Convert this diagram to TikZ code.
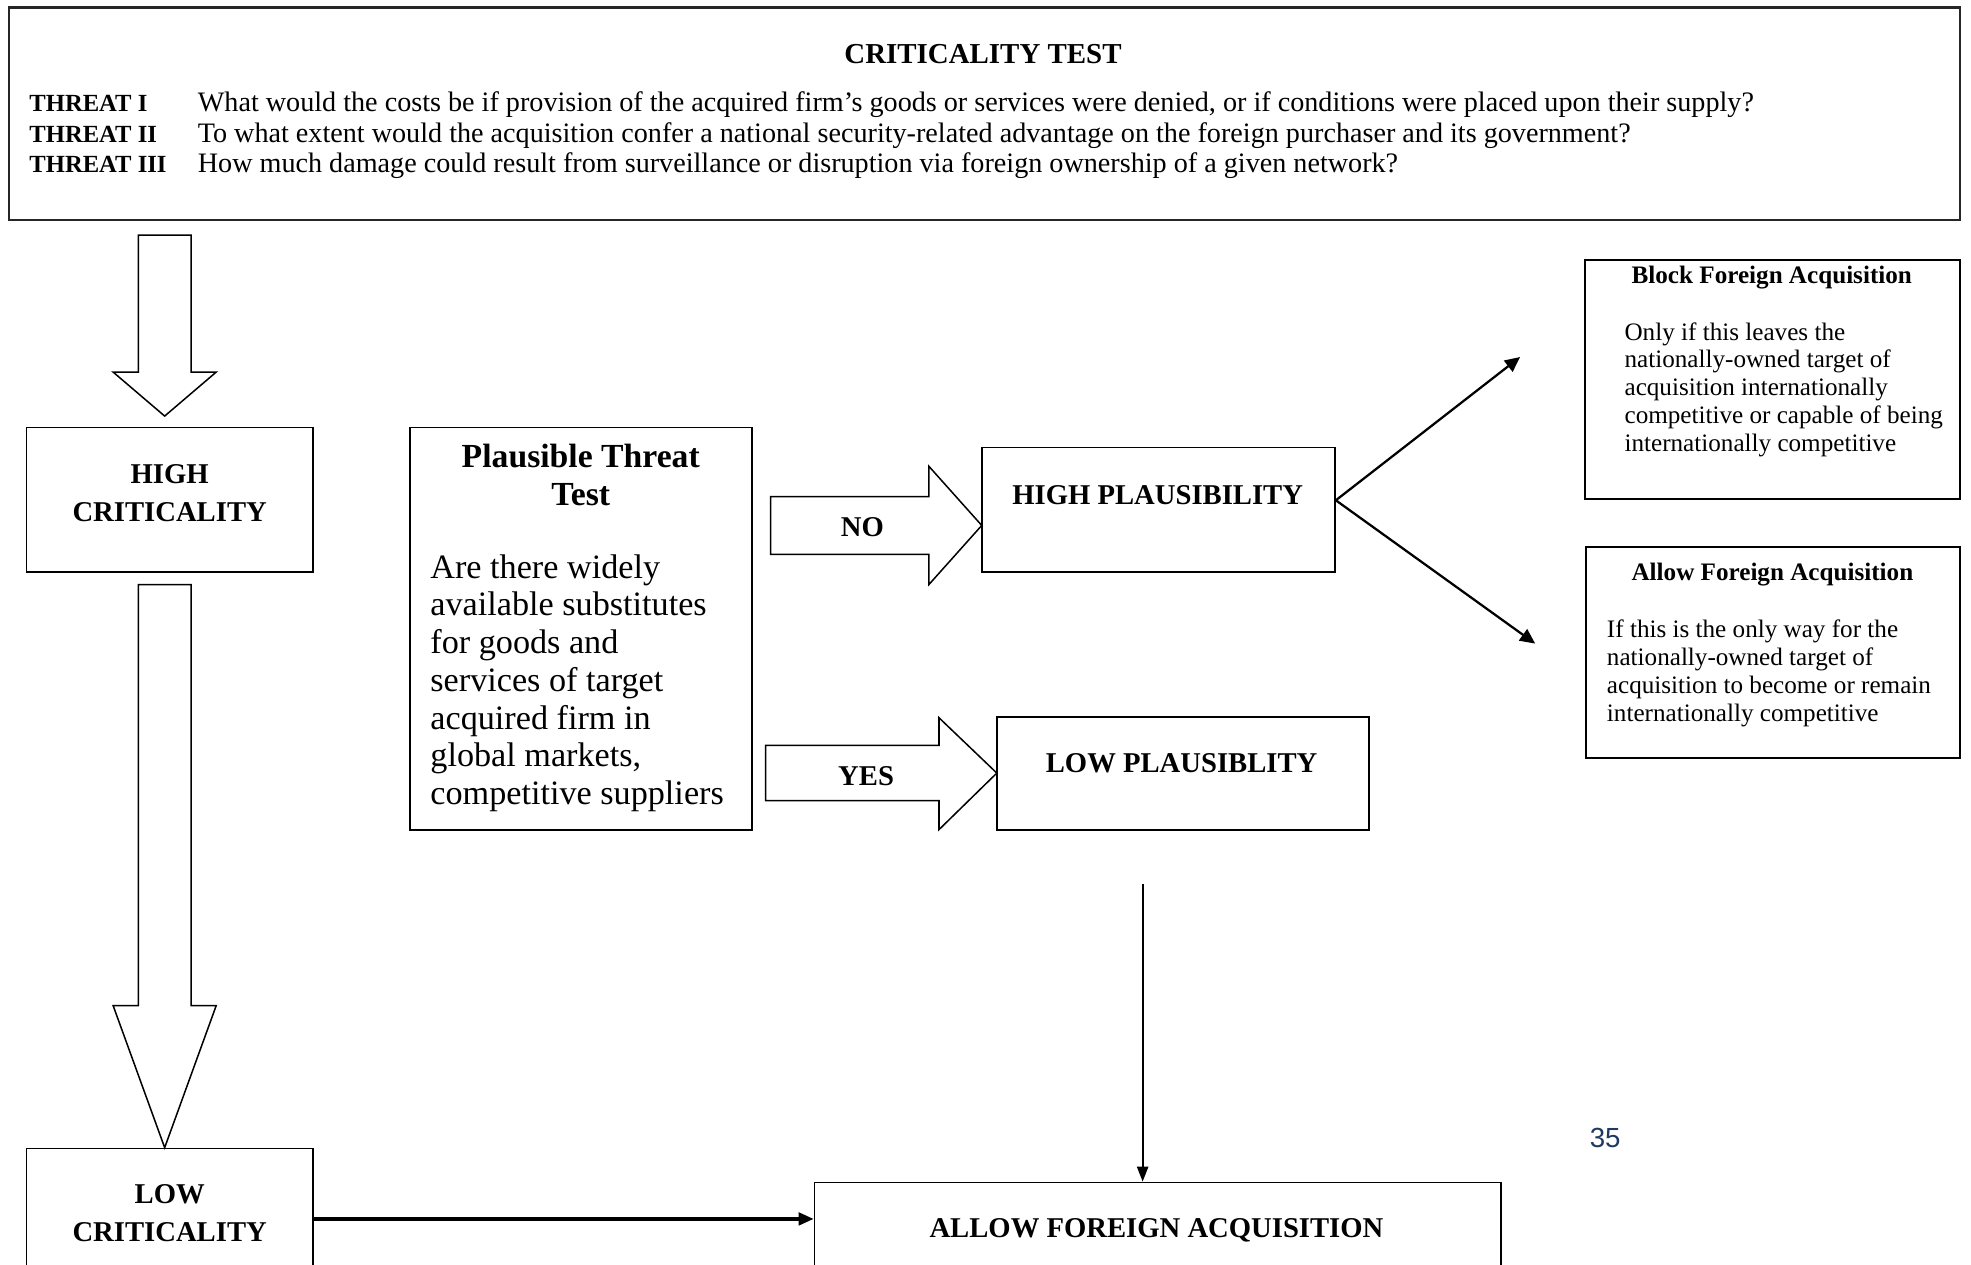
\documentclass[tikz,border=0pt]{standalone}
\usepackage{fontspec}
\setmainfont{Liberation Serif}
\newfontfamily\pagenumfont{Liberation Sans}
\usepackage{tikz}
\usetikzlibrary{positioning, arrows.meta, calc}
\definecolor{ink}{HTML}{000000}
\definecolor{frameink}{HTML}{262626}
\definecolor{pagenum}{HTML}{1F3864}
\tikzset{
  panel/.style    = {rectangle, draw=ink, line width=0.7pt, inner sep=0pt},
  testpanel/.style= {rectangle, draw=frameink, line width=0.9pt, inner sep=0pt},
  caps/.style     = {inner sep=0pt, anchor=base, align=center,
                     font=\fontsize{11.4}{15}\selectfont\bfseries},
  testtitle/.style= {inner sep=0pt, anchor=base, align=center,
                     font=\fontsize{13.4}{15}\selectfont\bfseries},
  testbody/.style = {inner sep=0pt, anchor=base west, align=left,
                     font=\fontsize{13.6}{15}\selectfont},
  threatlbl/.style= {inner sep=0pt, anchor=base west,
                     font=\fontsize{9.8}{12}\selectfont\bfseries},
  threatq/.style  = {inner sep=0pt, anchor=base west,
                     font=\fontsize{11.2}{12}\selectfont},
  outtitle/.style = {inner sep=0pt, anchor=base,
                     font=\fontsize{10}{11}\selectfont\bfseries},
  outbody/.style  = {inner sep=0pt, anchor=base west, align=left,
                     font=\fontsize{10}{11.1}\selectfont},
  hollow/.style   = {draw=ink, line width=0.6pt, fill=white, line join=miter},
  ar/.style       = {-{Triangle[length=6pt,width=5.5pt]}, line width=0.9pt, draw=ink},
  far/.style      = {-{Triangle[length=6pt,width=5pt]}, line width=1.3pt, draw=ink},
  tar/.style      = {-{Triangle[length=6pt,width=4.5pt]}, line width=0.7pt, draw=ink},
}

\begin{document}
\begin{tikzpicture}[x=0.5pt, y=-0.5pt]
  \useasboundingbox (0,0) rectangle (1568,1006);
  \clip (0,0) rectangle (1568,1006);

  % criticality test
  \node[testpanel, minimum width=776pt, minimum height=84.5pt] (ct) at (783,90.5) {};
  \node[caps, font=\fontsize{11.5}{14}\selectfont\bfseries] (cttitle) at (782,50.5) {CRITICALITY TEST};
  \node[threatlbl] (thr1) at (23,89) {THREAT I};
  \node[threatlbl] (thr2) at (23,113) {THREAT II};
  \node[threatlbl] (thr3) at (23,137) {THREAT III};
  \node[threatq] (q1) at (157,89) {What would the costs be if provision of the acquired firm’s goods or services were denied, or if conditions were placed upon their supply?};
  \node[threatq] (q2) at (157,113) {To what extent would the acquisition confer a national security-related advantage on the foreign purchaser and its government?};
  \node[threatq] (q3) at (157,137) {How much damage could result from surveillance or disruption via foreign ownership of a given network?};

  % criticality column (multi-line texts sit on their last baseline)
  \node[panel, minimum width=114pt, minimum height=57.5pt] (hc) at (135,397.5) {};
  \node[caps] (hctxt) at (135,414.5) {HIGH\\CRITICALITY};
  \node[panel, anchor=north, minimum width=114pt, minimum height=56pt] (lc) at (135,913) {};
  \node[caps] (lctxt) at (135,987.5) {LOW\\CRITICALITY};

  \draw[hollow] (110,187) -- (152,187) -- (152,296) -- (172,296) -- (131,331)
                -- (90,296) -- (110,296) -- cycle;
  \draw[hollow] (110,465) -- (152,465) -- (152,800) -- (172,800) -- (131,913)
                -- (90,800) -- (110,800) -- cycle;

  % plausible threat test
  \node[panel, minimum width=136pt, minimum height=160pt] (ptt) at (462,500) {};
  \node[testtitle] (ptttitle) at (462,402) {Plausible Threat\\Test};
  \node[testbody] (pttbody) at (342,640) {Are there widely\\available substitutes\\for goods and\\services of target\\acquired firm in\\global markets,\\competitive suppliers};

  \draw[hollow] (613,395) -- (739,395) -- (739,371) -- (781,418) -- (739,465)
                -- (739,441) -- (613,441) -- cycle;
  \node[caps] (no) at (686,426.5) {NO};
  \draw[hollow] (609,593) -- (747,593) -- (747,571) -- (793,615) -- (747,660)
                -- (747,637) -- (609,637) -- cycle;
  \node[caps] (yes) at (689,624.5) {YES};

  \node[panel, minimum width=140.5pt, minimum height=49.5pt] (hp) at (921.5,405.5) {};
  \node[caps] (hptxt) at (921,401) {HIGH PLAUSIBILITY};
  \node[panel, minimum width=148pt, minimum height=45pt] (lp) at (941,615.5) {};
  \node[caps] (lptxt) at (940,614.5) {LOW PLAUSIBLITY};

  % outcomes
  \node[panel, minimum width=149pt, minimum height=95pt] (bk) at (1410,302) {};
  \node[outtitle] (bktitle) at (1409.5,225.5) {Block Foreign Acquisition};
  \node[outbody] (bkbody) at (1292,359.3) {Only if this leaves the\\nationally-owned target of\\acquisition internationally\\competitive or capable of being\\internationally competitive};
  \node[panel, minimum width=148.5pt, minimum height=84pt] (af) at (1410.5,519) {};
  \node[outtitle] (aftitle) at (1410,461.5) {Allow Foreign Acquisition};
  \node[outbody] (afbody) at (1278,574.1) {If this is the only way for the\\nationally-owned target of\\acquisition to become or remain\\internationally competitive};

  \node[panel, anchor=north, minimum width=273pt, minimum height=40pt] (al) at (921,940) {};
  \node[caps] (altxt) at (920,984.5) {ALLOW FOREIGN ACQUISITION};

  \node[inner sep=0pt, font=\pagenumfont\fontsize{11}{13}\selectfont, text=pagenum] (pg) at (1277,905) {35};

  % connectors
  \coordinate (fork) at ($(hp.east)+(0,-7.5)$);
  \coordinate (bkin) at ($(bk.west)+(-51,-18)$);
  \coordinate (afin) at ($(af.west)+(-40,-7)$);
  \draw[ar] (fork) -- (bkin);
  \draw[ar] (fork) -- (afin);
  \coordinate (lpfoot) at ($(lp.south)+(-32,42)$);
  \draw[tar] (lpfoot) -- (lpfoot |- al.north);
  \draw[far] (lc.east) -- (lc.east -| al.west);

\end{tikzpicture}
\end{document}
